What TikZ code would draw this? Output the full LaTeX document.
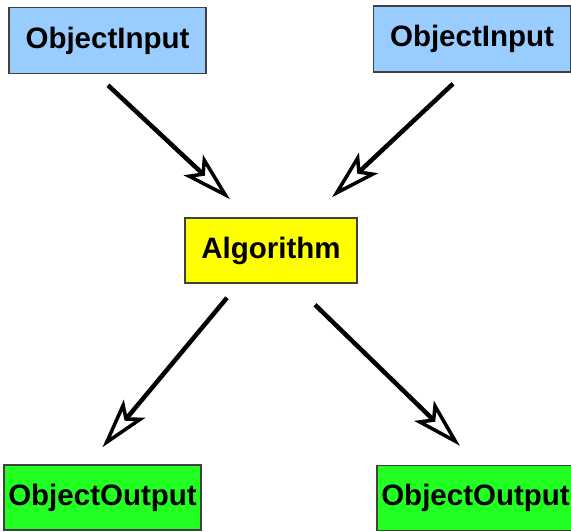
\documentclass[tikz,border=0pt]{standalone}
\usepackage{fontspec}
\setmainfont{Liberation Sans}
\usetikzlibrary{arrows.meta}

\tikzset{every picture/.style={line width=0.75pt}}
\tikzset{
  objbox/.style={draw={rgb, 255:red, 64; green, 64; blue, 64 }, line width=1.5pt,
    minimum width=197pt, minimum height=66pt, inner sep=0pt,
    font=\fontsize{29.5}{31}\selectfont\bfseries},
  inbox/.style={objbox, fill={rgb, 255:red, 153; green, 204; blue, 255 }},
  algbox/.style={objbox, minimum width=172pt, minimum height=65pt,
    fill={rgb, 255:red, 255; green, 255; blue, 0 }},
  outbox/.style={objbox, minimum height=65pt, fill={rgb, 255:red, 34; green, 255; blue, 34 }},
  conn/.style={line width=4.5pt,
    -{Stealth[open, length=50pt, width=28pt, inset=11pt, line width=3.5pt]}}
}

\begin{document}
\begin{tikzpicture}[x=1pt,y=1pt,yscale=-1,xscale=1]
\useasboundingbox (0,0) rectangle (571,531);

% Input nodes
\node [inbox] (in1) at (107.5,40.5) {ObjectInput};
\node [inbox] (in2) at (472,39) {ObjectInput};
% Algorithm node
\node [algbox] (alg) at (271,250.5) {Algorithm};
% Output nodes
\node [outbox] (out1) at (102.5,497.5) {ObjectOutput};
\node [outbox] (out2) at (475.5,498) {ObjectOutput};

% Connectors
\draw [conn] ([shift={(0.5,11)}]in1.south) -- ([shift={(-41,-18)}]alg.north);
\draw [conn] ([shift={(-19,11)}]in2.south) -- ([shift={(61,-20)}]alg.north);
\draw [conn] ([shift={(-44,14)}]alg.south) -- ([shift={(0,-17)}]out1.north);
\draw [conn] ([shift={(44,21)}]alg.south) -- ([shift={(-15.5,-19)}]out2.north);

\end{tikzpicture}
\end{document}
